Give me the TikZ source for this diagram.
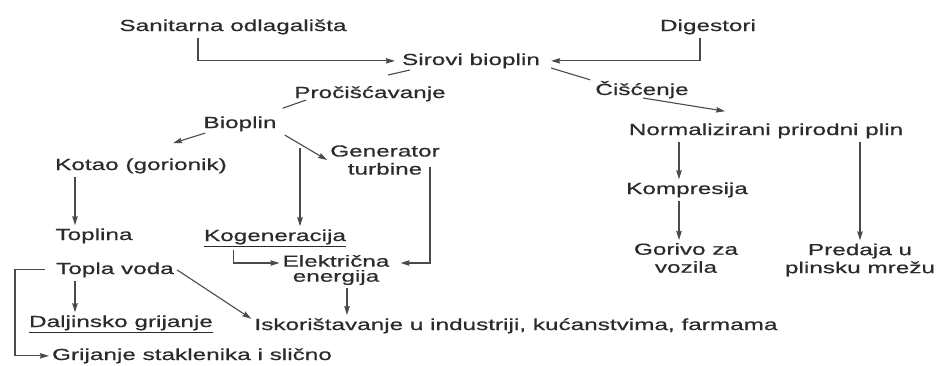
\documentclass[tikz,border=0pt]{standalone}
\usepackage{fontspec}
\setmainfont{Liberation Sans}[FakeStretch=1.52,FakeBold=0.6]
\usetikzlibrary{arrows.meta}
\definecolor{txt}{HTML}{2B2B2B}
\definecolor{ln}{HTML}{4A4A4A}
\begin{document}
\begin{tikzpicture}[x=1pt,y=-1pt,
  lbl/.style={inner sep=3pt, anchor=base, text=txt, font=\fontsize{16}{18}\selectfont},
  lbl2/.style={inner sep=3pt, anchor=center, align=center, text=txt, font=\fontsize{16}{18}\selectfont},
  conn/.style={draw=ln, line width=1.1pt},
  arr/.style={conn, -{Stealth[length=9pt,width=5.5pt,inset=1pt]}}]
\useasboundingbox (0,0) rectangle (939,365);
\node[lbl] (san) at (233,31) {Sanitarna odlagališta};
\node[lbl] (dig) at (708,31) {Digestori};
\node[lbl] (sir) at (471,65) {Sirovi bioplin};
\node[lbl] (pro) at (370,98) {Pročišćavanje};
\node[lbl] (cis) at (642,95) {Čišćenje};
\node[lbl] (bio) at (240,128) {Bioplin};
\node[lbl] (norm) at (766,135) {Normalizirani prirodni plin};
\node[lbl] (kot) at (141,170) {Kotao (gorionik)};
\node[lbl2] (gen) at (385,160) {Generator\\turbine};
\node[lbl] (komp) at (687,194) {Kompresija};
\node[lbl] (topl) at (94,240) {Toplina};
\node[lbl] (kog) at (275,241) {\underline{Kogeneracija}};
\node[lbl2] (gor) at (686,258) {Gorivo za\\vozila};
\node[lbl2] (pred) at (860,260) {Predaja u\\plinsku mrežu};
\node[lbl2, font=\fontsize{16}{15}\selectfont] (elek) at (336,270) {Električna\\energija};
\node[lbl] (voda) at (115,274) {Topla voda};
\node[lbl] (dal) at (121,327) {\underline{Daljinsko grijanje}};
\node[lbl] (isk) at (516,330) {Iskorištavanje u industriji, kućanstvima, farmama};
\node[lbl] (grij) at (192,360) {Grijanje staklenika i slično};

\draw[arr, shorten >=4pt] ([xshift=-35pt]san.south) |- (sir.west);
\draw[arr, shorten >=8pt] ([xshift=-8pt]dig.south) |- (sir.east);
\draw[conn] ([shift={(11,-1.5)}]sir.south west) -- ([shift={(18,-8)}]pro.north);
\draw[conn] ([shift={(15,-4.5)}]pro.south west) -- ([shift={(3,-5)}]bio.north east);
\draw[conn] ([shift={(8,-3.5)}]sir.south east) -- ([shift={(-2,2)}]cis.north west);
\draw[arr] ([shift={(1,-3.5)}]cis.south) -- ([shift={(-41,-9)}]norm.north);
\coordinate (kx) at ([xshift=-8pt]komp.north);
\draw[arr] (norm.south -| kx) -- (kx);
\draw[arr] (komp.south -| kx) -- (gor.north -| kx);
\draw[arr] (norm.south -| pred.north) -- (pred.north);
\draw[arr] ([shift={(5,-1.5)}]bio.south west) -- ([shift={(32,-12)}]kot.north);
\coordinate (bk) at ([shift={(60,13.5)}]bio.south);
\draw[arr] (bk) -- (kog.north -| bk);
\draw[arr] ([shift={(5,0.5)}]bio.south east) -- (gen.west);
\coordinate (tx) at ([xshift=-19pt]topl.north);
\draw[arr] (kot.south -| tx) -- (tx);
\draw[arr] ([xshift=33pt]kog.south west) |- ([yshift=7pt]elek.west);
\draw[arr, shorten >=8pt] ([shift={(-13,-11)}]gen.south east) |- ([yshift=7pt]elek.east);
\coordinate (ei) at ([xshift=11pt]elek.south);
\draw[arr] (ei) -- (isk.north -| ei);
\coordinate (vx) at ([xshift=-40pt]voda.south);
\draw[arr] (vx) -- (dal.north -| vx);
\draw[arr] (voda.east) -- ([yshift=7pt]isk.west);
\draw[arr, shorten <=8pt] (voda.west) -- ++(-38,0) |- (grij.west);
\end{tikzpicture}
\end{document}
